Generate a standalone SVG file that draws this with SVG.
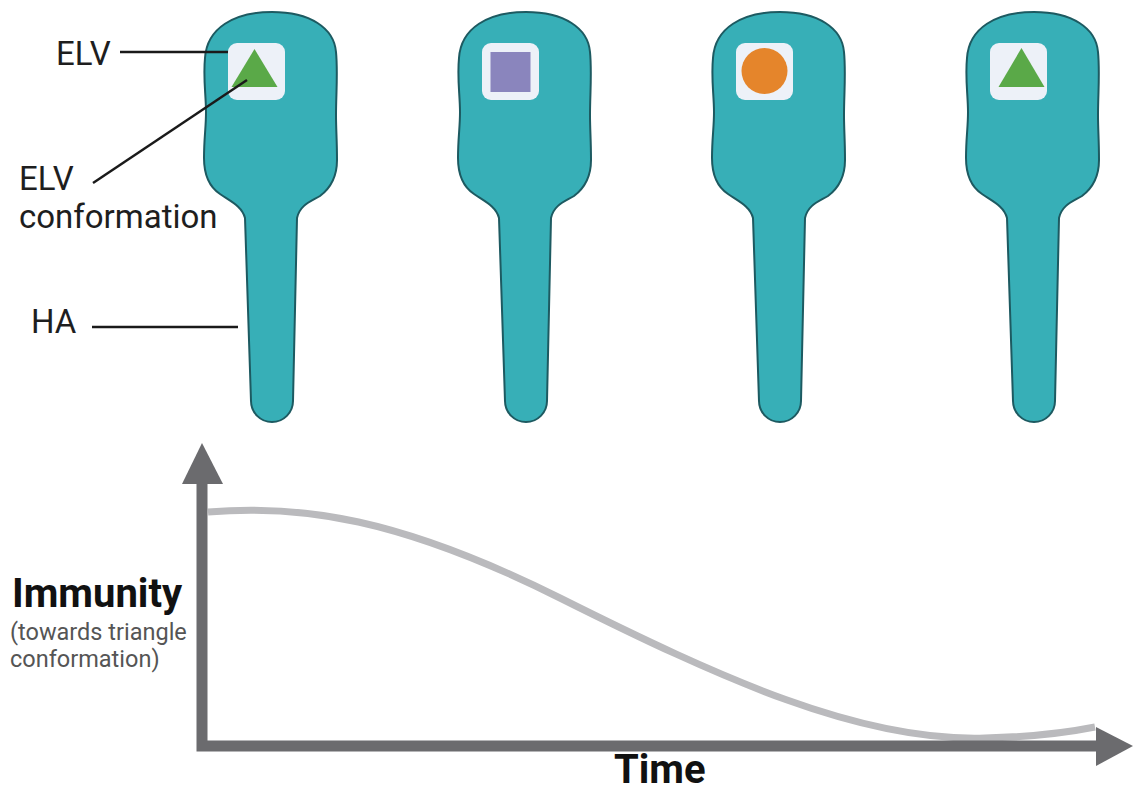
<svg xmlns="http://www.w3.org/2000/svg" width="1133" height="792" viewBox="0 0 1133 792">
  <style>
    .ha { fill: #37afb7; stroke: #1d5a61; stroke-width: 2; }
    .box { fill: #edf1f8; }
    .tri { fill: #5aa948; }
    .sq { fill: #8a85bd; }
    .circ { fill: #e5852b; }
    .lbl { font-family: Roboto, "Liberation Sans", sans-serif; font-size: 33px; fill: #1e1e1e; }
    .lead { stroke: #1a1a1a; stroke-width: 2.5; fill: none; }
    .axis { stroke: #6b6b6e; stroke-width: 11; fill: none; }
    .axhead { fill: #6b6b6e; }
    .curve { stroke: #bababd; stroke-width: 7; fill: none; stroke-linecap: butt; }
    .title { font-family: Roboto, "Liberation Sans", sans-serif; font-size: 40px; font-weight: bold; fill: #111; }
    .sub { font-family: Roboto, "Liberation Sans", sans-serif; font-size: 23.5px; fill: #555; }
  </style>
  <defs>
    <!-- HA protein outline, centred on x = 0 -->
    <path id="haShape" d="M-27,218
      C-30,206 -42,201 -52,194
      C-64,186 -68,172 -68,158
      C-68,138 -66,128 -66,112
      C-66,95 -69,78 -67,58
      C-65,28 -38,12 0,12
      C38,12 62,28 64,52
      C66,72 64,95 64,115
      C64,130 65,140 65,160
      C65,175 60,187 48,196
      C38,202 28,205 25,218
      L21,401
      A21,21 0 0 1 -21,401 Z"/>
    <!-- ELV window on the head -->
    <rect id="elvBox" x="-44" y="43" width="57" height="57" rx="9"/>
  </defs>

  <!-- HA molecules with their ELV conformations -->
  <g id="ha1" transform="translate(272,0)">
    <use href="#haShape" class="ha"/>
    <use href="#elvBox" class="box"/>
    <polygon class="tri" points="-17.5,49 5.5,87 -40.5,87"/>
  </g>
  <g id="ha2" transform="translate(526,0)">
    <use href="#haShape" class="ha"/>
    <use href="#elvBox" class="box"/>
    <rect class="sq" x="-35.5" y="52" width="40" height="40"/>
  </g>
  <g id="ha3" transform="translate(780,0)">
    <use href="#haShape" class="ha"/>
    <use href="#elvBox" class="box"/>
    <circle class="circ" cx="-15.5" cy="71" r="23"/>
  </g>
  <g id="ha4" transform="translate(1034,0)">
    <use href="#haShape" class="ha"/>
    <use href="#elvBox" class="box"/>
    <polygon class="tri" points="-12.5,48 10.5,87 -35.5,87"/>
  </g>

  <!-- callout labels -->
  <g id="labels">
    <text class="lbl" x="56" y="65">ELV</text>
    <text class="lbl" x="19" y="190">ELV</text>
    <text class="lbl" x="19" y="228">conformation</text>
    <text class="lbl" x="31" y="333">HA</text>
  </g>
  <g id="connectors">
    <line class="lead" x1="120" y1="52" x2="228" y2="52"/>
    <line class="lead" x1="93" y1="183" x2="247" y2="80"/>
    <line class="lead" x1="92" y1="327" x2="238" y2="327"/>
  </g>

  <!-- immunity over time plot -->
  <g id="plot">
    <path class="curve" d="M208,512 C300,504 400,518 560,598 C720,678 860,742 985,738 C1030,737 1065,733 1095,727"/>
    <path class="axis" d="M202,480 V746 H1098" stroke-linejoin="miter"/>
    <polygon class="axhead" points="202,443 182,484 223,484"/>
    <polygon class="axhead" points="1133,746 1096,727 1096,766"/>
    <text class="title" x="12" y="607">Immunity</text>
    <text class="sub" x="10" y="640">(towards triangle</text>
    <text class="sub" x="10" y="667">conformation)</text>
    <text class="title" x="614" y="783">Time</text>
  </g>
</svg>
